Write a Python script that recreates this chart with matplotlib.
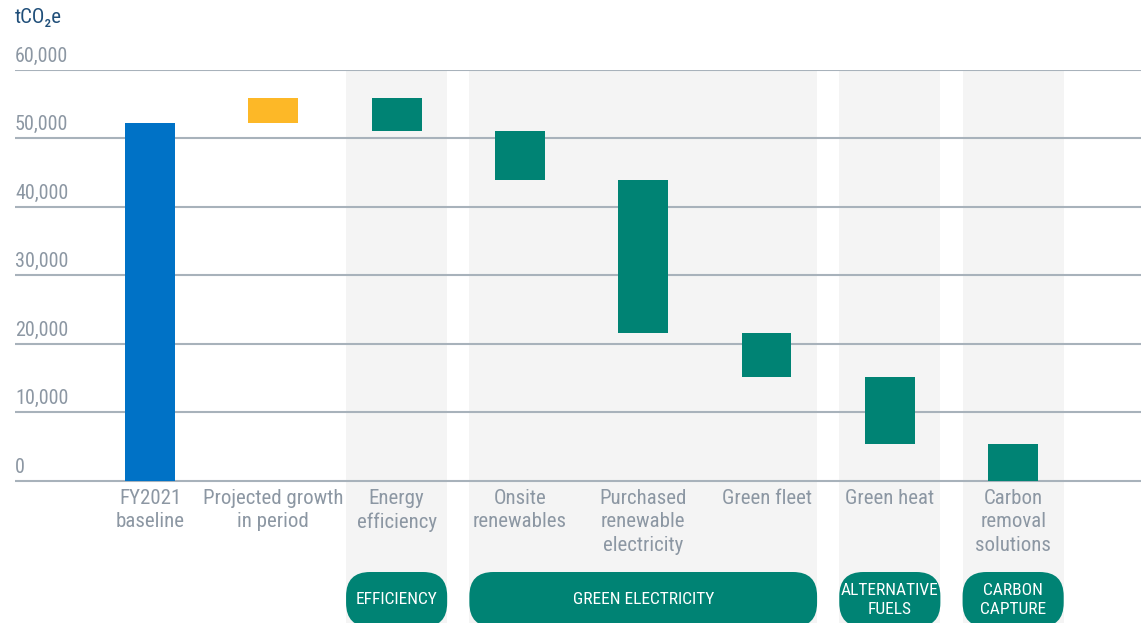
import matplotlib
matplotlib.use("Agg")
import matplotlib.pyplot as plt
from matplotlib.patches import FancyBboxPatch
import numpy as np

# Waterfall data (tCO2e)
categories = ["FY2021\nbaseline", "Projected growth\nin period", "Energy\nefficiency",
              "Onsite\nrenewables", "Purchased\nrenewable\nelectricity", "Green fleet",
              "Green heat", "Carbon\nremoval\nsolutions"]
changes = [52300, 3600, -4800, -7200, -22300, -6400, -9800, -5400]
bar_colors = ["#0072C6", "#FDB827", "#008374", "#008374", "#008374", "#008374", "#008374", "#008374"]
y_ticks = [0, 10000, 20000, 30000, 40000, 50000, 60000]
y_tick_labels = ["0", "10,000", "20,000", "30,000", "40,000", "50,000", "60,000"]

# groups: (label, first category index, last category index)
groups = [("EFFICIENCY", 2, 2), ("GREEN ELECTRICITY", 3, 5),
          ("ALTERNATIVE\nFUELS", 6, 6), ("CARBON\nCAPTURE", 7, 7)]

plt.rcParams['font.family'] = ['Roboto Condensed', 'DejaVu Sans']
plt.rcParams['font.stretch'] = 'condensed'

W, H = 1141, 623
fig = plt.figure(figsize=(W / 100, H / 100), dpi=100)
ax = fig.add_axes([15 / W, 0, 1126 / W, 553 / H])
ax.set_xlim(-1.095, 8.037)
ax.set_ylim(-20730, 60000)
ax.axis('off')

# pixel scales (used for the rounded pills and text offsets)
px_x = 1126 / (8.037 + 1.095)
px_y = 553 / (60000 + 20730)

# bars
ends = np.cumsum(changes)
starts = np.concatenate([[0], ends[:-1]])
x = np.arange(len(categories))
bottoms = np.minimum(starts, ends)
heights = np.abs(ends - starts)
ax.bar(x, heights, bottom=bottoms, width=0.405, color=bar_colors, zorder=3)

# gridlines + y labels
grid_col = "#A8B2BB"
for v, lab in zip(y_ticks, y_tick_labels):
    ax.axhline(v, color=grid_col, lw=1.5, zorder=2)
    ax.annotate(lab, xy=(0, v), xycoords=('axes fraction', 'data'),
                xytext=(0, 3), textcoords='offset points', ha='left', va='bottom',
                fontsize=14.5, color="#8C97A3")

# grey group shading and pills
half = 0.41
for lab, i0, i1 in groups:
    x0 = i0 - half
    w = (i1 + half) - x0
    ax.add_patch(plt.Rectangle((x0, -21000), w, 81000 - 30, color="#F4F4F4", zorder=0, lw=0))
    y0 = -(572 - 481) / px_y
    ph = 55 / px_y
    pill = FancyBboxPatch((x0, y0 - ph), w, ph,
                          boxstyle="round,pad=0,rounding_size=%f" % (24 / px_x),
                          mutation_aspect=px_x / px_y,
                          fc="#008374", ec="none", zorder=4)
    ax.add_patch(pill)
    ax.text(x0 + w / 2, y0 - 28 / px_y, lab, ha='center', va='center', color='white',
            fontsize=12.5, linespacing=1.35, zorder=5)

# category labels
for i, lab in enumerate(categories):
    ax.text(i, -(489 - 481) / px_y, lab, ha='center', va='top', fontsize=15,
            color="#8C97A3", linespacing=1.3)

fig.text(15 / W, 1 - 8 / H, "tCO₂e", ha='left', va='top', fontsize=15, color="#1F4E79")

fig.savefig("out.png", dpi=100)
